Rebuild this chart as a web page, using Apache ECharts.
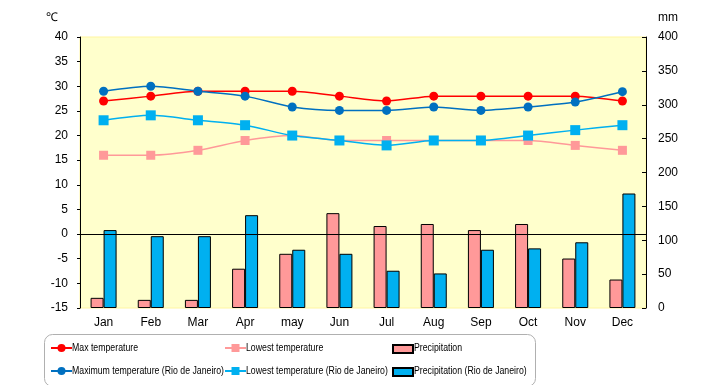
<!DOCTYPE html>
<html><head><meta charset="utf-8">
<script src="https://cdn.jsdelivr.net/npm/echarts@6/dist/echarts.min.js"></script>
<style>html,body{margin:0;padding:0;background:#fff}#c{width:720px;height:385px}</style>
</head><body><div id="c"></div>
<script>
const months = ['Jan','Feb','Mar','Apr','may','Jun','Jul','Aug','Sep','Oct','Nov','Dec'];
const maxTemp = [27,28,29,29,29,28,27,28,28,28,28,27];
const lowTemp = [16,16,17,19,20,19,19,19,19,19,18,17];
const precip = [15,12,12,58,80,140,121,124,115,124,73,42];
const maxTempRio = [29,30,29,28,25.8,25.1,25.1,25.8,25.1,25.8,26.8,28.9];
const lowTempRio = [23.1,24.1,23.1,22.1,20,19,18,19,19,20,21.1,22.1];
const precipRio = [115,106,106,137,86,80,55,51,86,88,97,169];
const leftTicks = {min:-15,max:40,interval:5};
const rightTicks = {min:0,max:400,interval:50};
const seriesNames = ['Max temperature','Maximum temperature (Rio de Janeiro)','Lowest temperature','Lowest temperature (Rio de Janeiro)','Precipitation','Precipitation (Rio de Janeiro)'];

const FONT = '"Liberation Sans",Arial,sans-serif';
const chart = echarts.init(document.getElementById('c'));
const lineBase = {type:'line', yAxisIndex:0, smooth:0.25, symbolSize:9, z:5, lineStyle:{width:1.5}};

// legend layout: columns x, rows y (centre)
const colX = [50,224,392];
const rowY = [348,371];
const legends = [], texts = [];
seriesNames.forEach((n,i)=>{
  const col = Math.floor(i/2), row = i%2;
  const isBar = col===2;
  const lg = {left:colX[col],top:rowY[row]-(isBar?4:5),orient:'horizontal',itemWidth:isBar?20:21,itemHeight:isBar?8:10,
    padding:0,formatter:()=>'',textStyle:{fontSize:1},data:[n],selectedMode:false};
  if (isBar) { lg.icon = 'rect'; lg.itemStyle = {borderWidth:2,borderColor:'#000'}; }
  legends.push(lg);
  texts.push({type:'text',x:colX[col]+22,y:rowY[row],scaleX:0.76,
    style:{text:n,font:'11.5px "Liberation Sans", Arial, sans-serif',fill:'#000',verticalAlign:'middle',align:'left'}});
});

chart.setOption({
  animation:false,
  textStyle:{fontFamily:FONT},
  grid:{left:80,right:74,top:37,bottom:77,show:true,backgroundColor:'#FFFFCC',borderColor:'#FFF5A0',borderWidth:1},
  xAxis:{type:'category',data:months,axisLine:{show:false},axisTick:{show:false},
    axisLabel:{color:'#000',fontSize:12,margin:9,fontFamily:FONT}},
  yAxis:[
    {type:'value',min:leftTicks.min,max:leftTicks.max,interval:leftTicks.interval,name:'℃',
     nameGap:13,nameTextStyle:{color:'#000',fontSize:12,align:'right',padding:[0,22,0,0]},
     axisLine:{show:true,lineStyle:{color:'#000'}},axisTick:{show:true,length:3,lineStyle:{color:'#000'}},
     splitLine:{show:false},axisLabel:{color:'#000',fontSize:12,margin:12,fontFamily:FONT}},
    {type:'value',min:rightTicks.min,max:rightTicks.max,interval:rightTicks.interval,name:'mm',position:'right',
     nameGap:13,nameTextStyle:{color:'#000',fontSize:12,align:'left',padding:[0,0,0,12]},
     axisLine:{show:true,lineStyle:{color:'#000'}},axisTick:{show:true,length:4,inside:true,lineStyle:{color:'#000'}},
     splitLine:{show:false},axisLabel:{color:'#000',fontSize:12,margin:12,fontFamily:FONT}}
  ],
  legend:legends,
  graphic:[{type:'rect',left:42,top:332,shape:{width:491,height:52,r:8},style:{fill:'none',stroke:'#b0b0b0',lineWidth:1},z:-1}].concat(texts),
  series:[
    {name:'Precipitation',type:'bar',yAxisIndex:1,data:precip,barWidth:13,barGap:'0%',z:2,
     itemStyle:{color:'#FF9999',borderColor:'#000',borderWidth:1}},
    {name:'Precipitation (Rio de Janeiro)',type:'bar',yAxisIndex:1,data:precipRio,barWidth:13,barGap:'0%',z:2,
     itemStyle:{color:'#00B0F0',borderColor:'#000',borderWidth:1}},
    Object.assign({},lineBase,{name:'Lowest temperature',data:lowTemp,symbol:'rect',color:'#FF9999',
      lineStyle:{width:1.5,color:'#FF9999'},itemStyle:{color:'#FF9999'},
      markLine:{silent:true,symbol:'none',label:{show:false},lineStyle:{color:'#000',type:'solid',width:1},data:[{yAxis:0}]}}),
    Object.assign({},lineBase,{name:'Max temperature',data:maxTemp,symbol:'circle',color:'#FF0000',
      lineStyle:{width:1.5,color:'#FF0000'},itemStyle:{color:'#FF0000'}}),
    Object.assign({},lineBase,{name:'Lowest temperature (Rio de Janeiro)',data:lowTempRio,symbol:'rect',symbolSize:10,color:'#00B0F0',
      lineStyle:{width:1.5,color:'#00B0F0'},itemStyle:{color:'#00B0F0'}}),
    Object.assign({},lineBase,{name:'Maximum temperature (Rio de Janeiro)',data:maxTempRio,symbol:'circle',color:'#0070C0',
      lineStyle:{width:1.5,color:'#0070C0'},itemStyle:{color:'#0070C0'}})
  ]
});
</script></body></html>
